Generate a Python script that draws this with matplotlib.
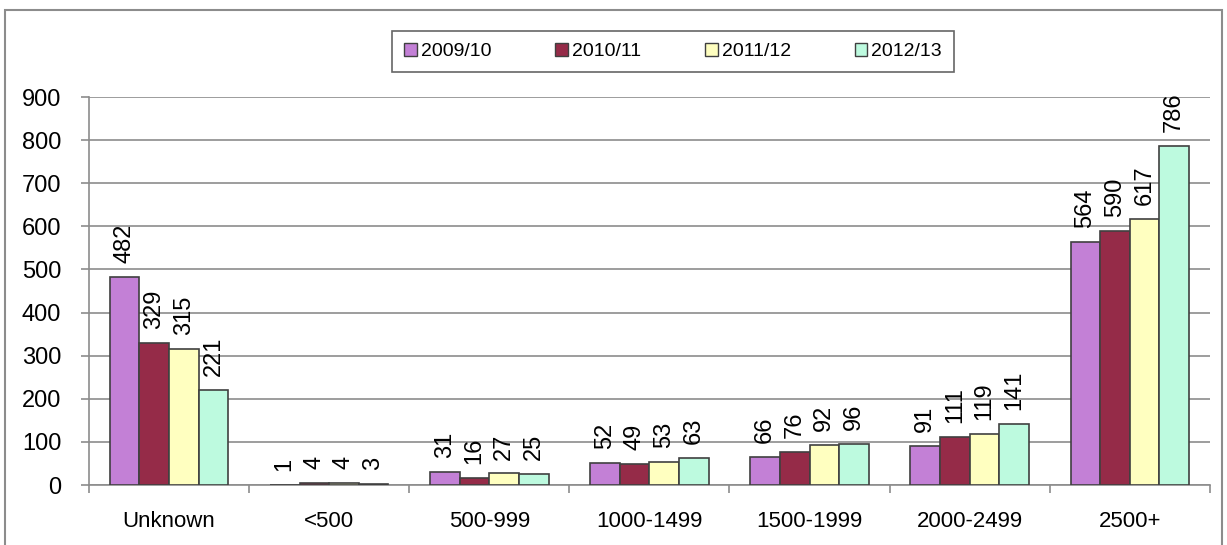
import numpy as np
import matplotlib.pyplot as plt
from matplotlib.patches import Rectangle

# categories and values per year
categories = ['Unknown', '<500', '500-999', '1000-1499', '1500-1999', '2000-2499', '2500+']
years = ['2009/10', '2010/11', '2011/12', '2012/13']
v0910 = [482, 1, 31, 52, 66, 91, 564]
v1011 = [329, 4, 16, 49, 76, 111, 590]
v1112 = [315, 4, 27, 53, 92, 119, 617]
v1213 = [221, 3, 25, 63, 96, 141, 786]
colors = ['#C380D6', '#952B48', '#FFFFC0', '#BDFADF']

plt.rcParams['font.family'] = ['Liberation Sans', 'DejaVu Sans']

fig = plt.figure(figsize=(12.27, 5.45), dpi=100)
ax = fig.add_axes([0.0725, 0.110, 0.9135, 0.712])

# outer chart border
fig.patches.append(Rectangle((5 / 1227, -0.1), 1217 / 1227, 1.1 - 10 / 545,
                             transform=fig.transFigure, fill=False,
                             edgecolor='#8c8c8c', linewidth=1.5))

x = np.arange(len(categories))
w = 0.185
series = [v0910, v1011, v1112, v1213]
for i, vals in enumerate(series):
    pos = x + (i - 1.5) * w
    ax.bar(pos, vals, width=w, color=colors[i], edgecolor='#404040',
           linewidth=1.2, label=years[i], zorder=3)
    for p, v in zip(pos, vals):
        ax.annotate(str(v), (p, v), xytext=(0, 10), textcoords='offset points',
                    rotation=90, ha='center', va='bottom', fontsize=17)

ax.set_xlim(-0.5, len(categories) - 0.5)
ax.set_ylim(0, 900)
ax.set_yticks(range(0, 901, 100))
ax.yaxis.grid(True, color='#8c8c8c', linewidth=1.2, zorder=0)
ax.set_xticks(x)
ax.set_xticklabels(categories, fontsize=16)
ax.tick_params(axis='x', length=0, pad=19)
ax.tick_params(axis='y', labelsize=17, length=6, color='#8c8c8c', width=1.2, pad=14)
# ticks at category boundaries
ax.set_xticks(np.arange(-0.5, len(categories)), minor=True)
ax.tick_params(axis='x', which='minor', length=6, color='#8c8c8c', width=1.2)

for s in ['top', 'right']:
    ax.spines[s].set_visible(False)
for s in ['left', 'bottom']:
    ax.spines[s].set_color('#8c8c8c')
    ax.spines[s].set_linewidth(1.2)

leg = ax.legend(loc='center', bbox_to_anchor=(673 / 1227, 1 - 51.5 / 545),
                bbox_transform=fig.transFigure, ncol=4, fontsize=14,
                frameon=True, fancybox=False, handlelength=0.65, handleheight=0.65,
                handletextpad=0.2, columnspacing=3.3, borderpad=0.6,
                borderaxespad=0)
leg.get_frame().set_edgecolor('#404040')
leg.get_frame().set_linewidth(1.2)
for h in leg.legend_handles:
    h.set_linewidth(1.0)

plt.savefig('out.png', dpi=100)
